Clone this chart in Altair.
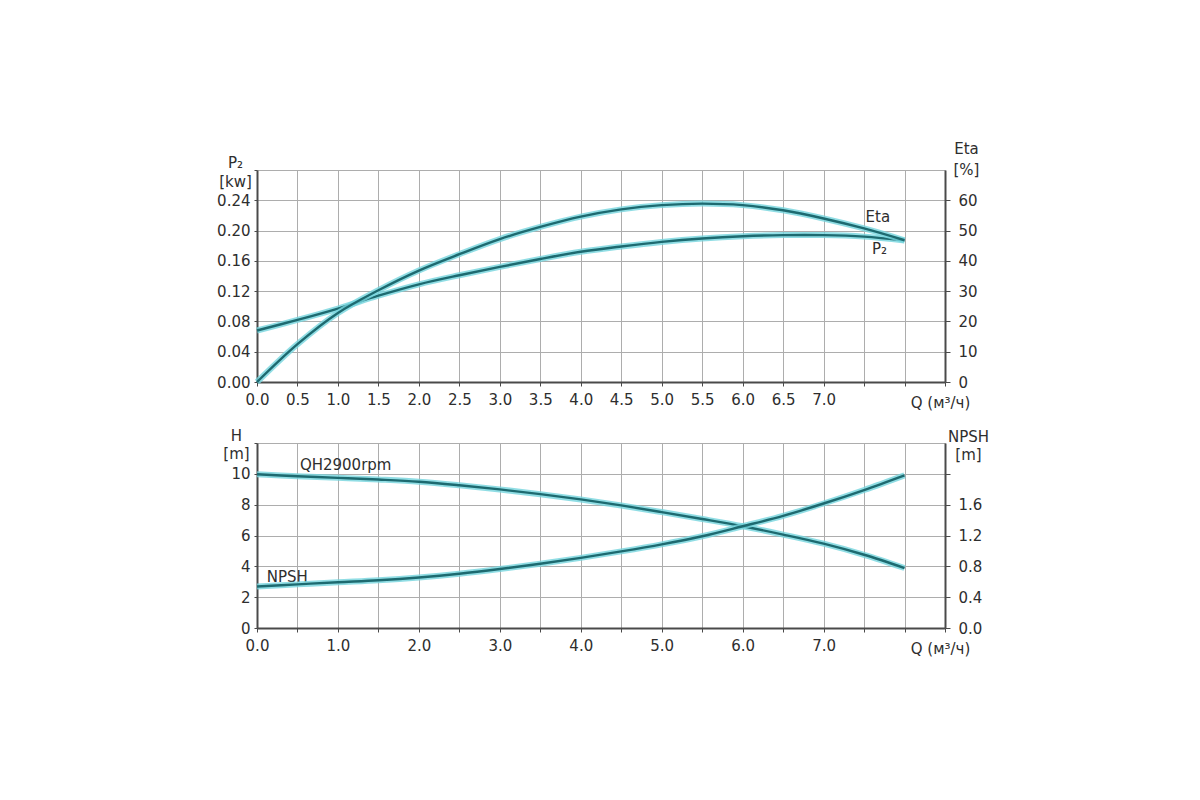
import altair as alt
import pandas as pd

# ---- data ----
q = [0.0, 0.5, 1.0, 1.5, 2.0, 2.5, 3.0, 3.5, 4.0, 4.5, 5.0, 5.5, 6.0, 6.5, 7.0, 7.5, 8.0]
p2_kw = [0.068, 0.082, 0.097, 0.114, 0.129, 0.141, 0.152, 0.1625, 0.172, 0.179,
         0.185, 0.1895, 0.1925, 0.194, 0.194, 0.192, 0.187]
eta_pct = [0.0, 12.5, 22.8, 30.3, 36.8, 42.2, 47.2, 51.2, 54.6, 57.0,
           58.4, 58.9, 58.4, 56.7, 54.0, 50.7, 46.8]
head_m = [9.97, 9.84, 9.74, 9.63, 9.49, 9.26, 8.99, 8.68, 8.34, 7.95,
          7.52, 7.07, 6.60, 6.06, 5.47, 4.75, 3.89]
npsh_m = [0.538, 0.566, 0.594, 0.620, 0.656, 0.704, 0.765, 0.834, 0.910, 0.994,
          1.085, 1.19, 1.32, 1.455, 1.615, 1.79, 1.98]

q_ticks = [0.0, 0.5, 1.0, 1.5, 2.0, 2.5, 3.0, 3.5, 4.0, 4.5, 5.0, 5.5, 6.0, 6.5, 7.0, 7.5, 8.0, 8.5]
p2_ticks = [0.0, 0.04, 0.08, 0.12, 0.16, 0.20, 0.24, 0.28]
eta_ticks = [0, 10, 20, 30, 40, 50, 60]
h_ticks = [0, 2, 4, 6, 8, 10, 12]
npsh_ticks = [0.0, 0.4, 0.8, 1.2, 1.6, 2.0]

top_labels = ["Eta", "P₂"]
top_label_q = [7.67, 7.69]
top_label_v = [0.2176, 0.1757]
bot_labels = ["QH2900rpm", "NPSH"]
bot_label_q = [0.53, 0.12]
bot_label_v = [10.55, 3.32]

FONT = "DejaVu Sans"
FS = 15
DARK = "#1d6a70"
HALO = "#74d4dd"
AX = "#4a4a4a"
GRID = "#adadad"
LBL = "#2e2e2e"

W = 688
H_TOP = 212
H_BOT = 185

top_df = pd.DataFrame({"Q": q, "P2": p2_kw, "Eta": eta_pct})
bot_df = pd.DataFrame({"Q": q, "H": head_m, "NPSH": npsh_m})
top_lab = pd.DataFrame({"Q": top_label_q, "P2": top_label_v, "t": top_labels})
bot_lab = pd.DataFrame({"Q": bot_label_q, "H": bot_label_v, "t": bot_labels})

xscale = alt.Scale(domain=[0, 8.5], nice=False, zero=False)


def x_axis(label_expr):
    return alt.Axis(
        values=q_ticks, labelExpr=label_expr, grid=True, gridColor=GRID, gridWidth=1,
        domainColor=AX, domainWidth=2, tickColor=AX, tickSize=4,
        labelFont=FONT, labelFontSize=FS, labelColor=LBL, labelPadding=6,
        labelFlush=False, labelOverlap=False,
        title="Q (м³/ч)", titleFont=FONT, titleFontSize=FS, titleFontWeight="normal",
        titleColor=LBL, titleX=683, titleY=20, titleBaseline="middle", titleAlign="center",
    )


def y_axis(values, label_expr, title, orient, tx, ty, line_h):
    return alt.Axis(
        values=values, labelExpr=label_expr, orient=orient,
        grid=(orient == "left"), gridColor=GRID, gridWidth=1,
        domainColor=AX, domainWidth=2, tickColor=AX,
        tickSize=(3 if orient == "left" else 5),
        labelFont=FONT, labelFontSize=FS, labelColor=LBL,
        labelPadding=(4 if orient == "left" else 8),
        labelFlush=False, labelOverlap=False,
        title=title, titleAngle=0, titleFont=FONT, titleFontSize=FS,
        titleFontWeight="normal", titleColor=LBL, titleX=tx, titleY=ty,
        titleAlign="center", titleBaseline="top", titleLineHeight=line_h,
    )


def curve(df, field, scale, xaxis, yaxis):
    base = alt.Chart(df).encode(
        x=alt.X("Q:Q", scale=xscale, axis=xaxis),
        y=alt.Y(f"{field}:Q", scale=scale, axis=yaxis),
    )
    halo = base.mark_line(color=HALO, strokeWidth=6, opacity=0.8, interpolate="catmull-rom")
    core = base.mark_line(color=DARK, strokeWidth=2.4, interpolate="catmull-rom")
    return [halo, core]


# ---------------- top panel ----------------
p2_scale = alt.Scale(domain=[0, 0.28], nice=False)
eta_scale = alt.Scale(domain=[0, 70], nice=False)
top_x_axis = x_axis("datum.value <= 7 ? format(datum.value, '.1f') : ''")
p2_axis = y_axis(p2_ticks, "datum.value > 0.25 ? '' : format(datum.value, '.2f')",
                 ["P₂", "[kw]"], "left", -22, -15, 19)
eta_axis = y_axis(eta_ticks, "format(datum.value, 'd')", ["Eta", "[%]"], "right", 21, -29, 21)

top_left = curve(top_df, "P2", p2_scale, top_x_axis, p2_axis)
top_text = alt.Chart(top_lab).mark_text(font=FONT, fontSize=FS, color=LBL).encode(
    x=alt.X("Q:Q", scale=xscale, axis=top_x_axis),
    y=alt.Y("P2:Q", scale=p2_scale, axis=p2_axis),
    text="t:N",
)
top_right = curve(top_df, "Eta", eta_scale, top_x_axis, eta_axis)
top = alt.layer(
    alt.layer(*top_left, top_text),
    alt.layer(*top_right),
).resolve_scale(y="independent").properties(width=W, height=H_TOP)

# ---------------- bottom panel ----------------
h_scale = alt.Scale(domain=[0, 12], nice=False)
npsh_scale = alt.Scale(domain=[0, 2.4], nice=False)
bot_x_axis = x_axis("datum.value <= 7 && datum.value % 1 == 0 ? format(datum.value, '.1f') : ''")
h_axis = y_axis(h_ticks, "datum.value > 11 ? '' : format(datum.value, 'd')",
                ["H", "[m]"], "left", -21, -15, 18)
npsh_axis = y_axis(npsh_ticks, "datum.value > 1.9 ? '' : format(datum.value, '.1f')",
                   ["NPSH", "[m]"], "right", 23, -14, 18)

bot_left = curve(bot_df, "H", h_scale, bot_x_axis, h_axis)
bot_text = alt.Chart(bot_lab).mark_text(font=FONT, fontSize=FS, color=LBL, align="left").encode(
    x=alt.X("Q:Q", scale=xscale, axis=bot_x_axis),
    y=alt.Y("H:Q", scale=h_scale, axis=h_axis),
    text="t:N",
)
bot_right = curve(bot_df, "NPSH", npsh_scale, bot_x_axis, npsh_axis)
bottom = alt.layer(
    alt.layer(*bot_left, bot_text),
    alt.layer(*bot_right),
).resolve_scale(y="independent").properties(width=W, height=H_BOT)

chart = alt.vconcat(top, bottom, spacing=61, bounds="flush").properties(
    padding={"left": 208, "top": 132, "right": 10, "bottom": 10},
).configure_view(stroke="#8a8a8a", strokeWidth=1).configure(background="white")

chart.save("out.html", embed_options={"renderer": "svg", "actions": False})
